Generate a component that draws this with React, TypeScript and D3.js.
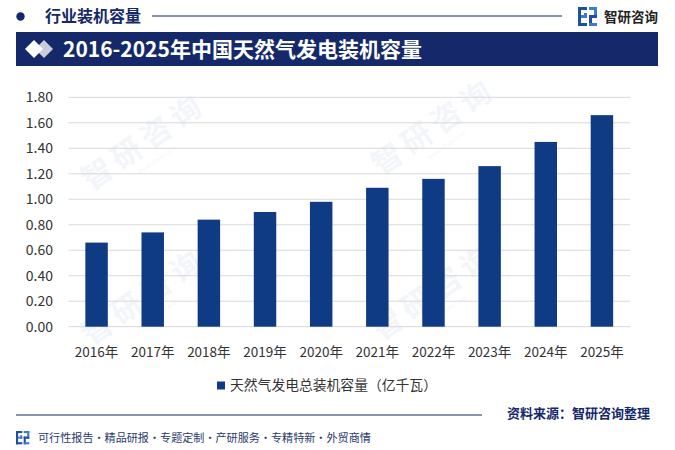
import React from "react";
import * as d3 from "d3";

const years = ["2016年", "2017年", "2018年", "2019年", "2020年", "2021年", "2022年", "2023年", "2024年", "2025年"];
const capacity = [0.66, 0.74, 0.84, 0.9, 0.98, 1.09, 1.16, 1.26, 1.45, 1.66];
const yTicks = [0, 0.2, 0.4, 0.6, 0.8, 1.0, 1.2, 1.4, 1.6, 1.8];
const headerLabel = "行业装机容量";
const titleText = "2016-2025年中国天然气发电装机容量";
const legendLabel = "天然气发电总装机容量（亿千瓦）";
const brandName = "智研咨询";
const sourceText = "资料来源：智研咨询整理";
const footerText = "可行性报告·精品研报·专题定制·产研服务·专精特新·外贸商情";

const W = 675;
const H = 450;
const NAVY = "#15296a";
const BAR = "#0f3a84";
const FONT = "'Noto Sans CJK SC', 'Noto Sans', sans-serif";

const Logo = ({ x, y, s }: { x: number; y: number; s: number }) => (
  <g transform={`translate(${x},${y}) scale(${s})`}>
    <rect x={0} y={0} width={9} height={3} fill="#1f4f9e" />
    <rect x={0} y={0} width={3} height={19} fill="#1f4f9e" />
    <rect x={6} y={6} width={3} height={5} fill="#3b7bd0" />
    <rect x={3} y={8} width={6} height={3} fill="#3b7bd0" />
    <rect x={0} y={16} width={9} height={3} fill="#1f4f9e" />
    <rect x={11} y={0} width={8} height={3} fill="#3b7bd0" />
    <rect x={16} y={0} width={3} height={11} fill="#3b7bd0" />
    <rect x={11} y={8} width={8} height={3} fill="#1f4f9e" />
    <rect x={11} y={8} width={3} height={11} fill="#1f4f9e" />
    <rect x={11} y={16} width={8} height={3} fill="#3b7bd0" />
  </g>
);

export default function App() {
  const margin = { left: 68.5, right: 630, top: 97.3, bottom: 326.7 };
  const x = d3.scaleBand<string>().domain(years).range([margin.left, margin.right]).paddingInner(0.6).paddingOuter(0.3);
  const y = d3.scaleLinear().domain([0, 1.8]).range([margin.bottom, margin.top]);
  const fmt = d3.format(".2f");

  const watermarks = [
    { x: 150, y: 150 },
    { x: 440, y: 135 },
    { x: 150, y: 305 },
    { x: 440, y: 300 },
  ];

  return (
    <svg
      width={W}
      height={H}
      viewBox={`0 0 ${W} ${H}`}
      style={{ position: "absolute", left: 0, top: 0, background: "#fff" }}
      fontFamily={FONT}
    >
      <rect x={0} y={0} width={W} height={H} fill="#ffffff" />

      {/* watermarks */}
      {watermarks.map((w, i) => (
        <g key={i} transform={`translate(${w.x},${w.y}) rotate(-35)`} opacity={0.05}>
          <text x={0} y={0} fontSize={30} fontWeight={700} fill="#1f4f9e" textAnchor="middle" letterSpacing={6}>
            {brandName}
          </text>
          <text x={0} y={14} fontSize={6} fill="#1f4f9e" textAnchor="middle">
            www.chyxx.com
          </text>
        </g>
      ))}

      {/* header */}
      <circle cx={20.5} cy={16.5} r={4.2} fill={NAVY} />
      <text x={45} y={22} fontSize={16} fontWeight={700} fill={NAVY}>
        {headerLabel}
      </text>
      <line x1={152} x2={562} y1={16} y2={16} stroke={NAVY} strokeWidth={1.2} />
      <Logo x={578} y={7} s={1} />
      <text x={604} y={21.5} fontSize={13.5} fontWeight={700} fill="#222">
        {brandName}
      </text>

      {/* title bar */}
      <rect x={16} y={32} width={642} height={34} fill={NAVY} />
      <path d="M44,40 L53,49 L44,58 L35,49 Z" fill="#c9cdd8" />
      <path d="M34,40 L43,49 L34,58 L25,49 Z" fill="#ffffff" />
      <text x={63} y={56.5} fontSize={21} fontWeight={700} fill="#ffffff">
        {titleText}
      </text>

      {/* gridlines */}
      {yTicks.map((t) => (
        <line key={t} x1={margin.left} x2={margin.right} y1={y(t)} y2={y(t)} stroke="#d9d9d9" strokeWidth={1} />
      ))}
      {/* y tick labels */}
      {yTicks.map((t) => (
        <text key={"l" + t} x={53} y={y(t)} dy="0.35em" fontSize={14} fill="#333" textAnchor="end">
          {fmt(t)}
        </text>
      ))}

      {/* bars */}
      {years.map((yr, i) => (
        <rect
          key={yr}
          x={x(yr)}
          y={y(capacity[i])}
          width={x.bandwidth()}
          height={y(0) - y(capacity[i])}
          fill={BAR}
        />
      ))}

      {/* x labels */}
      {years.map((yr) => (
        <text key={"x" + yr} x={(x(yr) as number) + x.bandwidth() / 2} y={352.5} dy="0.35em" fontSize={13.5} fill="#333" textAnchor="middle">
          {yr}
        </text>
      ))}

      {/* legend */}
      <rect x={217} y={381.5} width={8} height={8} fill={BAR} />
      <text x={230} y={385.5} dy="0.35em" fontSize={13.8} fill="#333">
        {legendLabel}
      </text>

      {/* footer */}
      <line x1={16} x2={482} y1={415} y2={415} stroke={NAVY} strokeWidth={1.2} />
      <text x={650} y={417.5} fontSize={13} fontWeight={700} fill={NAVY} textAnchor="end">
        {sourceText}
      </text>
      <Logo x={16} y={431} s={0.7} />
      <text x={38} y={441.5} fontSize={11.1} fill="#2a3a6a">
        {footerText}
      </text>
    </svg>
  );
}
